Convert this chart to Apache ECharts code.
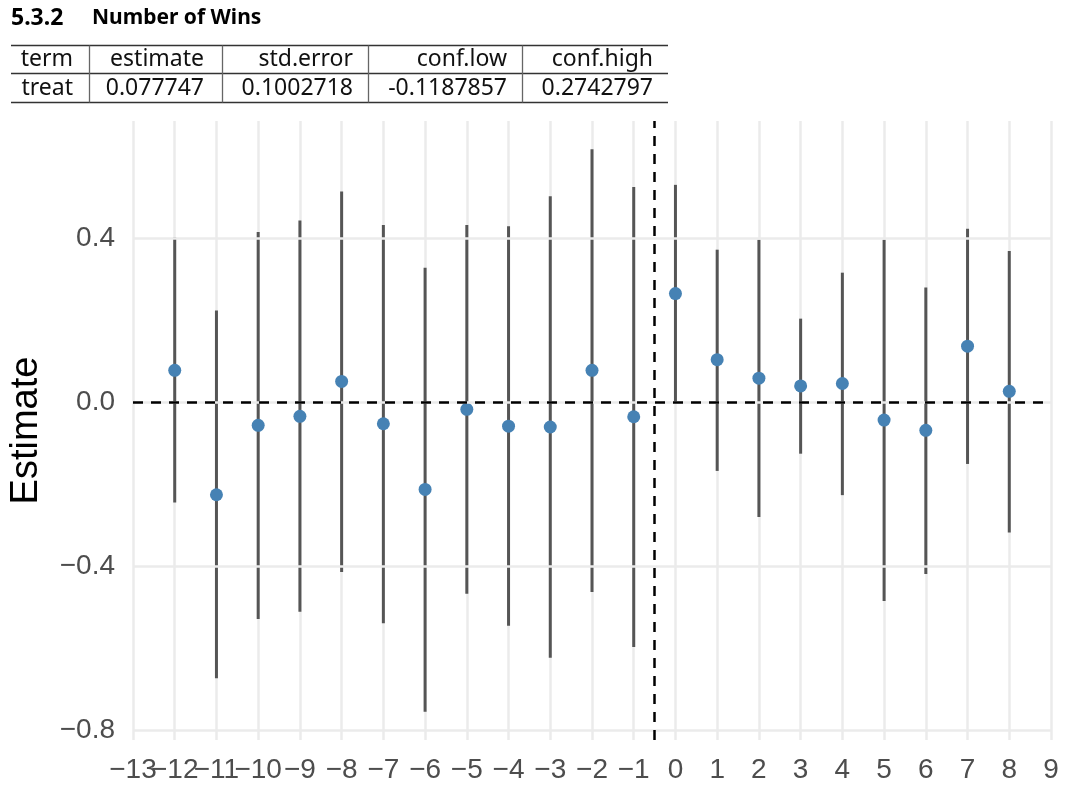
<!DOCTYPE html>
<html>
<head>
<meta charset="utf-8">
<script src="https://cdn.jsdelivr.net/npm/echarts@6/dist/echarts.min.js"></script>
<style>
  html, body { margin: 0; padding: 0; background: #ffffff; }
  #chart { width: 1072px; height: 792px; }
</style>
</head>
<body>
<div id="chart"></div>
<script>
// ---- Data ----
const periods   = [-12, -11, -10, -9, -8, -7, -6, -5, -4, -3, -2, -1, 0, 1, 2, 3, 4, 5, 6, 7, 8];
const estimate  = [0.077, -0.226, -0.057, -0.035, 0.050, -0.053, -0.213, -0.018, -0.059, -0.061, 0.077, -0.036, 0.264, 0.103, 0.058, 0.039, 0.045, -0.044, -0.069, 0.136, 0.026];
const confLow   = [-0.245, -0.673, -0.529, -0.511, -0.414, -0.539, -0.755, -0.467, -0.545, -0.623, -0.463, -0.597, 0.000, -0.168, -0.280, -0.126, -0.227, -0.485, -0.419, -0.151, -0.318];
const confHigh  = [0.401, 0.223, 0.414, 0.442, 0.513, 0.431, 0.327, 0.431, 0.428, 0.501, 0.616, 0.524, 0.529, 0.371, 0.395, 0.203, 0.315, 0.395, 0.279, 0.422, 0.368];
const xTicks    = [-13, -12, -11, -10, -9, -8, -7, -6, -5, -4, -3, -2, -1, 0, 1, 2, 3, 4, 5, 6, 7, 8, 9];
const yTicks    = [-0.8, -0.4, 0.0, 0.4];
const xMin = -13, xMax = 9;
const treatLine = -0.5;

const titleNumber = '5.3.2';
const titleText   = 'Number of Wins';
const tableHeader = ['term', 'estimate', 'std.error', 'conf.low', 'conf.high'];
const tableRow    = ['treat', '0.077747', '0.1002718', '-0.1187857', '0.2742797'];

// ---- y range like ggplot (5% expansion of data range) ----
const dLo = Math.min.apply(null, confLow), dHi = Math.max.apply(null, confHigh);
const pad = (dHi - dLo) * 0.05;
const yMin = dLo - pad, yMax = dHi + pad;

const minus = s => String(s).replace('-', '\u2212');
// split x labels over two label axes so none is hidden by overlap handling
const xTicksA = xTicks.filter((v, i) => i % 2 === 0);
const xTicksB = xTicks.filter((v, i) => i % 2 === 1);

// ---- table graphics ----
const tblLeft = 11, tblRight = 668;
const rowLines = [45.5, 73.5, 102.5];
const colSeps = [89, 222, 368, 522];
const colRight = [73, 204, 353, 507, 653];
const rowCenters = [59, 88];
const graphics = [];
graphics.push({ type: 'text', x: 11, y: 18, style: { text: titleNumber, font: 'bold 23px "Noto Sans"', fill: '#000', verticalAlign: 'middle' } });
graphics.push({ type: 'text', x: 92, y: 18, style: { text: titleText, font: 'bold 21px "Noto Sans"', fill: '#000', verticalAlign: 'middle' } });
rowLines.forEach(y => graphics.push({ type: 'line', shape: { x1: tblLeft, y1: y, x2: tblRight, y2: y }, style: { stroke: '#333', lineWidth: 1.3 } }));
colSeps.forEach(x => graphics.push({ type: 'line', shape: { x1: x + 0.5, y1: rowLines[0], x2: x + 0.5, y2: rowLines[2] }, style: { stroke: '#666', lineWidth: 1.3 } }));
[tableHeader, tableRow].forEach((row, r) => {
  row.forEach((txt, c) => {
    graphics.push({ type: 'text', x: colRight[c], y: rowCenters[r],
      style: { text: txt, font: '23px "Noto Sans"', fill: '#111', align: 'right', verticalAlign: 'middle' } });
  });
});

const labelStyle = { fontSize: 28, color: '#4D4D4D', fontFamily: 'Liberation Sans', margin: 16,
  hideOverlap: false, showMinLabel: true, showMaxLabel: true, formatter: v => minus(v) };

const chart = echarts.init(document.getElementById('chart'), null, { renderer: 'canvas' });
chart.setOption({
  backgroundColor: '#ffffff',
  animation: false,
  graphic: graphics,
  grid: { left: 133, right: 21, top: 121, bottom: 52 },
  xAxis: [
    {
      type: 'value', min: xMin, max: xMax, interval: 1, position: 'bottom',
      axisLine: { show: false }, axisTick: { show: false },
      splitLine: { show: true, lineStyle: { color: '#EBEBEB', width: 2.5 } },
      axisLabel: Object.assign({ customValues: xTicksA }, labelStyle)
    },
    {
      type: 'value', min: xMin, max: xMax, interval: 1, position: 'bottom', offset: 0,
      axisLine: { show: false }, axisTick: { show: false }, splitLine: { show: false },
      axisLabel: Object.assign({ customValues: xTicksB }, labelStyle)
    }
  ],
  yAxis: {
    type: 'value', min: yMin, max: yMax,
    name: 'Estimate', nameLocation: 'middle', nameGap: 87, nameRotate: 90,
    nameTextStyle: { fontSize: 38, color: '#000', fontFamily: 'Liberation Sans' },
    axisLine: { show: false }, axisTick: { show: false },
    splitLine: { show: false },
    axisLabel: { customValues: yTicks, fontSize: 28, color: '#4D4D4D', fontFamily: 'Liberation Sans', margin: 18,
      formatter: v => minus(Number(v).toFixed(1)) }
  },
  series: [
    {
      type: 'line', data: [], silent: true, z: 1,
      markLine: { silent: true, symbol: 'none', label: { show: false },
        lineStyle: { color: '#EBEBEB', width: 2.5, type: 'solid' },
        data: yTicks.map(v => ({ yAxis: v })) }
    },
    {
      type: 'line', data: [], silent: true, z: 2,
      markLine: { silent: true, symbol: 'none', label: { show: false },
        lineStyle: { color: '#000', width: 2.5, type: [10, 8] },
        data: [{ yAxis: 0 }, { xAxis: treatLine }] }
    },
    {
      type: 'custom', z: 3, silent: true,
      data: periods.map((p, i) => [p, confLow[i], confHigh[i]]),
      encode: { x: 0, y: [1, 2] },
      renderItem: function (params, api) {
        const a = api.coord([api.value(0), api.value(1)]);
        const b = api.coord([api.value(0), api.value(2)]);
        return { type: 'line', shape: { x1: a[0], y1: a[1], x2: b[0], y2: b[1] },
          style: { stroke: '#555555', lineWidth: 3 } };
      }
    },
    {
      type: 'scatter', z: 4, silent: true,
      data: periods.map((p, i) => [p, estimate[i]]),
      symbolSize: 13,
      itemStyle: { color: '#4682B4', opacity: 1 }
    }
  ]
});
</script>
</body>
</html>
